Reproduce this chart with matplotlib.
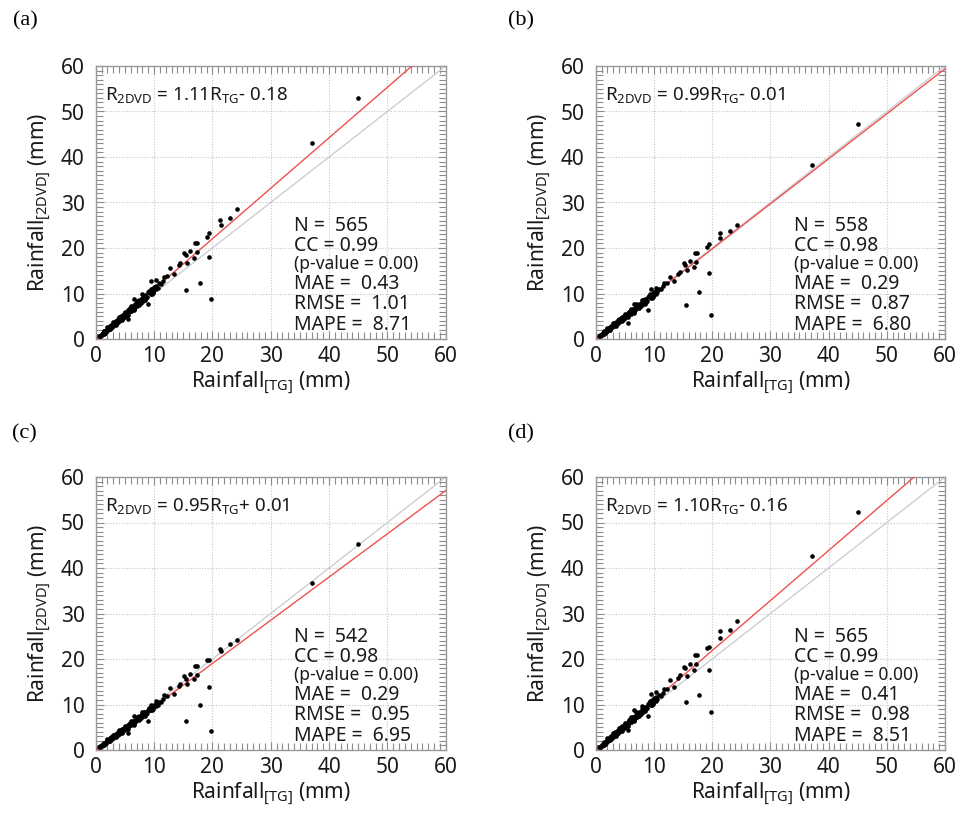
import matplotlib
matplotlib.use("Agg")
import matplotlib.pyplot as plt
from matplotlib.ticker import MultipleLocator

plt.rcParams['font.family'] = ['Noto Sans', 'DejaVu Sans']
plt.rcParams['mathtext.fontset'] = 'custom'
plt.rcParams['mathtext.rm'] = 'Noto Sans'
plt.rcParams['mathtext.it'] = 'Noto Sans:italic'
plt.rcParams['mathtext.bf'] = 'Noto Sans:bold'

# ---------------- data ----------------
panel_labels = ['(a)', '(b)', '(c)', '(d)']
slopes = [1.11, 0.99, 0.95, 1.10]
intercepts = [-0.18, -0.01, 0.01, -0.16]
n_vals = [565, 558, 542, 565]
cc_vals = [0.99, 0.98, 0.98, 0.99]
p_vals = [0.00, 0.00, 0.00, 0.00]
mae_vals = [0.43, 0.29, 0.29, 0.41]
rmse_vals = [1.01, 0.87, 0.95, 0.98]
mape_vals = [8.71, 6.80, 6.95, 8.51]

# tipping-gauge rainfall (shared by all panels)
tg_main = [0.6, 0.8, 1.0, 1.1, 1.3, 1.4, 1.6, 1.7, 1.9, 2.0,
           2.2, 2.3, 2.5, 2.6, 2.8, 2.9, 3.1, 3.2, 3.4, 3.5,
           3.7, 3.8, 4.0, 4.1, 4.3, 4.4, 4.6, 4.7, 4.9, 5.0,
           5.2, 5.3, 5.5, 5.6, 5.8, 5.9, 6.1, 6.3, 6.5, 6.7,
           6.9, 7.1, 7.3, 7.6, 7.8, 8.0, 8.3, 8.5, 8.8, 9.0,
           9.3, 9.5, 9.7, 9.9, 10.1, 10.3, 10.6, 10.9, 11.2, 11.5]
tg_second = [0.7, 1.2, 1.5, 1.8, 2.1, 2.4, 2.7, 3.0, 3.3, 3.6,
             3.9, 4.2, 4.5, 4.8, 5.1, 5.4, 5.7, 6.0, 6.4, 6.8,
             7.2, 7.7, 8.2, 8.7, 9.1, 9.6, 10.0, 10.4]
tg_third = [1.0, 1.6, 2.2, 2.8, 3.4, 4.0, 4.6, 5.2, 5.8, 6.6, 7.4, 8.1, 9.4, 9.8]
tg_fourth = [1.5, 2.5, 3.5, 4.5, 5.5, 6.5, 7.5, 8.5, 2.0, 3.0, 4.0, 5.0, 6.0, 7.0]
tg_special = [9.0, 6.6, 7.9, 9.5, 10.4, 5.5]
tg_outlier = [45.0, 37.1, 24.3, 23.1, 21.3, 21.4, 19.4, 19.1, 19.5, 17.8,
              19.8, 15.5, 17.1, 17.4, 16.2, 15.2, 15.4, 16.9, 17.3, 15.7,
              14.5, 14.2, 12.7, 13.5, 12.2, 11.7]

# 2DVD rainfall, panel (a)
a_main = [0.6, 0.6, 1.1, 0.85, 1.25, 1.65, 1.4, 1.8, 1.65, 2.25,
          2.3, 2.1, 2.9, 2.45, 2.95, 3.35, 3.0, 3.5, 3.3, 3.95,
          4.0, 3.7, 4.5, 4.1, 4.6, 5.0, 4.6, 5.2, 4.9, 5.65,
          5.6, 5.3, 6.3, 5.7, 6.3, 6.8, 6.2, 7.1, 6.7, 7.6,
          7.5, 7.3, 8.3, 7.9, 8.5, 9.1, 8.7, 9.6, 9.2, 10.3,
          10.2, 9.9, 11.0, 10.4, 11.0, 11.7, 11.2, 12.2, 12.0, 12.7]
a_second = [0.75, 1.0, 1.7, 1.65, 2.35, 2.3, 3.05, 2.95, 3.75, 3.6,
            4.45, 4.2, 5.1, 4.85, 5.8, 5.5, 6.5, 6.1, 7.3, 7.0,
            8.2, 8.0, 9.4, 9.0, 10.5, 10.0, 11.5, 10.9]
a_third = [1.2, 1.35, 2.55, 2.65, 3.9, 4.0, 5.3, 5.25, 6.65, 6.8, 8.5, 8.4, 10.9, 10.2]
a_fourth = [1.0, 2.1, 3.15, 4.2, 5.3, 6.4, 7.5, 8.6, 2.6, 3.75, 4.9, 6.0, 7.2, 8.3]
a_special = [7.7, 8.8, 9.8, 12.8, 12.9, 4.5]
a_outlier = [53.0, 43.1, 28.6, 26.5, 26.2, 25.1, 23.3, 22.5, 18.0, 12.2,
             8.8, 10.7, 21.2, 21.0, 19.3, 18.8, 18.5, 17.9, 19.2, 16.6,
             16.7, 16.3, 15.6, 14.2, 13.9, 13.6]

# panel (b)
b_main = [0.7, 0.65, 1.15, 0.95, 1.3, 1.6, 1.45, 1.8, 1.7, 2.15,
          2.2, 2.05, 2.7, 2.4, 2.8, 3.1, 2.9, 3.3, 3.2, 3.7,
          3.7, 3.5, 4.15, 3.85, 4.3, 4.6, 4.35, 4.8, 4.6, 5.2,
          5.15, 5.0, 5.7, 5.3, 5.8, 6.1, 5.85, 6.45, 6.2, 6.9,
          6.85, 6.8, 7.5, 7.3, 7.8, 8.2, 8.0, 8.7, 8.4, 9.2,
          9.2, 9.1, 9.9, 9.5, 10.1, 10.5, 10.3, 11.0, 10.9, 11.6]
b_second = [0.8, 1.05, 1.65, 1.6, 2.25, 2.2, 2.85, 2.8, 3.5, 3.35,
            4.1, 3.95, 4.7, 4.5, 5.3, 5.1, 5.9, 5.6, 6.65, 6.4,
            7.45, 7.3, 8.5, 8.2, 9.45, 9.1, 10.4, 9.9]
b_third = [1.2, 1.4, 2.4, 2.55, 3.6, 3.75, 4.8, 4.9, 6.0, 6.25, 7.7, 7.7, 9.8, 9.3]
b_fourth = [1.0, 2.0, 2.95, 3.9, 4.85, 5.8, 6.8, 7.8, 2.5, 3.5, 4.5, 5.5, 6.6, 7.6]
b_special = [6.4, 7.6, 8.6, 11.0, 11.2, 3.6]
b_outlier = [47.3, 38.2, 25.1, 23.8, 23.3, 22.2, 20.8, 20.3, 14.6, 10.3,
             5.2, 7.4, 18.9, 18.9, 17.1, 16.8, 16.3, 15.9, 17.0, 15.2,
             14.8, 14.2, 13.7, 12.7, 12.3, 12.2]

# panel (c)
c_main = [0.7, 0.65, 1.1, 0.95, 1.3, 1.55, 1.45, 1.75, 1.7, 2.1,
          2.15, 2.0, 2.6, 2.35, 2.75, 3.0, 2.85, 3.2, 3.15, 3.6,
          3.6, 3.4, 4.05, 3.75, 4.2, 4.5, 4.25, 4.7, 4.5, 5.05,
          5.0, 4.85, 5.5, 5.15, 5.6, 5.95, 5.65, 6.2, 6.0, 6.7,
          6.6, 6.6, 7.25, 7.05, 7.55, 7.9, 7.75, 8.4, 8.1, 8.9,
          8.9, 8.8, 9.6, 9.2, 9.75, 10.1, 9.95, 10.6, 10.5, 11.2]
c_second = [0.8, 1.05, 1.6, 1.55, 2.2, 2.1, 2.75, 2.7, 3.4, 3.25,
            3.95, 3.8, 4.55, 4.35, 5.15, 4.95, 5.75, 5.45, 6.45, 6.2,
            7.25, 7.1, 8.25, 8.0, 9.15, 8.85, 10.0, 9.6]
c_third = [1.15, 1.35, 2.3, 2.45, 3.5, 3.6, 4.65, 4.7, 5.8, 6.0, 7.4, 7.45, 9.4, 9.0]
c_fourth = [1.0, 1.95, 2.85, 3.8, 4.7, 5.6, 6.6, 7.5, 2.4, 3.4, 4.35, 5.3, 6.35, 7.3]
c_special = [6.4, 7.4, 8.3, 10.0, 10.8, 3.8]
c_outlier = [45.2, 36.6, 24.1, 23.2, 22.3, 21.8, 19.75, 19.75, 13.9, 9.9,
             4.2, 6.4, 18.5, 18.5, 16.6, 16.3, 15.7, 15.7, 16.5, 14.6,
             14.6, 14.0, 13.7, 12.4, 11.9, 12.0]

# panel (d)
d_main = [0.6, 0.65, 1.05, 0.85, 1.3, 1.6, 1.4, 1.8, 1.7, 2.2,
          2.3, 2.15, 2.85, 2.45, 2.95, 3.3, 3.05, 3.45, 3.3, 3.9,
          3.95, 3.75, 4.45, 4.1, 4.6, 4.95, 4.65, 5.15, 4.9, 5.6,
          5.55, 5.35, 6.25, 5.7, 6.25, 6.75, 6.25, 7.05, 6.7, 7.55,
          7.45, 7.3, 8.2, 7.9, 8.45, 9.0, 8.7, 9.5, 9.2, 10.2,
          10.1, 9.9, 10.9, 10.4, 10.95, 11.6, 11.2, 12.1, 11.95, 12.6]
d_second = [0.7, 1.05, 1.65, 1.7, 2.3, 2.35, 3.0, 2.95, 3.7, 3.6,
            4.4, 4.25, 5.05, 4.85, 5.75, 5.5, 6.45, 6.15, 7.25, 7.0,
            8.15, 8.0, 9.3, 9.0, 10.4, 10.0, 11.4, 10.85]
d_third = [1.15, 1.4, 2.5, 2.7, 3.85, 4.0, 5.25, 5.25, 6.6, 6.8, 8.4, 8.4, 10.8, 10.2]
d_fourth = [1.0, 2.1, 3.15, 4.2, 5.3, 6.35, 7.45, 8.55, 2.6, 3.7, 4.85, 5.95, 7.15, 8.25]
d_special = [7.5, 8.7, 9.7, 12.4, 12.8, 4.4]
d_outlier = [52.3, 42.6, 28.3, 26.3, 26.1, 24.6, 22.6, 22.4, 17.6, 12.1,
             8.3, 10.5, 20.8, 20.8, 19.0, 18.3, 18.1, 17.6, 19.0, 16.2,
             16.4, 15.9, 15.3, 13.8, 13.3, 13.5]

ticks = [0, 10, 20, 30, 40, 50, 60]

tg_all = tg_main + tg_second + tg_third + tg_fourth + tg_special + tg_outlier
dvd_all = [a_main + a_second + a_third + a_fourth + a_special + a_outlier,
           b_main + b_second + b_third + b_fourth + b_special + b_outlier,
           c_main + c_second + c_third + c_fourth + c_special + c_outlier,
           d_main + d_second + d_third + d_fourth + d_special + d_outlier]

# ---------------- figure ----------------
fig = plt.figure(figsize=(9.76, 8.21), dpi=100)

W, H = 976.0, 821.0
boxes = [(95.7, 66, 445.7, 339), (595.7, 66, 945, 339),
         (95.7, 477, 445.7, 750), (595.7, 477, 945, 750)]
label_pos = [(25, 21), (521, 21), (24, 434), (521, 434)]

spine_col = '#9a9a9a'
text_col = '#1a1a1a'
fs_tick = 15
fs_lab = 15

for i in range(4):
    x0, y0, x1, y1 = boxes[i]
    ax = fig.add_axes([x0 / W, 1 - y1 / H, (x1 - x0) / W, (y1 - y0) / H])
    ax.set_xlim(0, 60)
    ax.set_ylim(0, 60)
    ax.set_xticks(ticks)
    ax.set_yticks(ticks)
    ax.xaxis.set_minor_locator(MultipleLocator(1))
    ax.yaxis.set_minor_locator(MultipleLocator(1))
    ax.tick_params(which='both', direction='in', top=True, right=True,
                   color='#8c8c8c', width=0.8)
    ax.tick_params(which='major', length=6)
    ax.tick_params(which='minor', length=5)
    ax.tick_params(axis='x', which='major', labelsize=fs_tick, pad=5, labelcolor=text_col)
    ax.tick_params(axis='y', which='major', labelsize=fs_tick, pad=8, labelcolor=text_col)
    for s in ax.spines.values():
        s.set_color(spine_col)
        s.set_linewidth(1.0)
    ax.grid(True, which='major', linestyle=(0, (1, 1.5)), color='#c4c4c4', linewidth=0.8)
    ax.set_axisbelow(True)

    ax.axline((0, 0), slope=1, color='#c9c9d2', linewidth=0.9, zorder=2)
    ax.axline((0, intercepts[i]), slope=slopes[i], color='#f05050', linewidth=1.0, zorder=3)
    ax.scatter(tg_all, dvd_all[i], s=11, c='black', linewidths=0, zorder=4)

    ax.set_xlabel(r'Rainfall$_{\mathregular{[TG]}}$ (mm)', fontsize=fs_lab,
                  color=text_col, labelpad=2)
    ax.set_ylabel(r'Rainfall$_{\mathregular{[2DVD]}}$ (mm)', fontsize=fs_lab,
                  color=text_col, labelpad=5)

    sign = '-' if intercepts[i] < 0 else '+'
    eq = (r'R$_{\mathregular{2DVD}}$ = ' + f'{slopes[i]:.2f}' + r'R$_{\mathregular{TG}}$'
          + f'{sign} {abs(intercepts[i]):.2f}')
    ax.text(0.027, 0.892, eq, transform=ax.transAxes, fontsize=13.5,
            va='center', ha='left', color=text_col)

    tx = 0.567
    fs_s = 14
    ax.text(tx, 0.413, f'N =  {n_vals[i]}', transform=ax.transAxes, fontsize=fs_s,
            va='center', ha='left', color=text_col)
    ax.text(tx, 0.341, f'CC = {cc_vals[i]:.2f}', transform=ax.transAxes, fontsize=fs_s,
            va='center', ha='left', color=text_col)
    ax.text(tx, 0.274, f'(p-value = {p_vals[i]:.2f})', transform=ax.transAxes, fontsize=12.5,
            va='center', ha='left', color=text_col)
    ax.text(tx, 0.202, f'MAE =  {mae_vals[i]:.2f}', transform=ax.transAxes, fontsize=fs_s,
            va='center', ha='left', color=text_col)
    ax.text(tx, 0.127, f'RMSE =  {rmse_vals[i]:.2f}', transform=ax.transAxes, fontsize=fs_s,
            va='center', ha='left', color=text_col)
    ax.text(tx, 0.051, f'MAPE =  {mape_vals[i]:.2f}', transform=ax.transAxes, fontsize=fs_s,
            va='center', ha='left', color=text_col)

    lx, ly = label_pos[i]
    fig.text(lx / W, 1 - ly / H, panel_labels[i], fontsize=16,
             family=['Liberation Serif', 'DejaVu Serif'], ha='center', va='center',
             color='black')

fig.savefig('out.png', dpi=100, facecolor='white')
